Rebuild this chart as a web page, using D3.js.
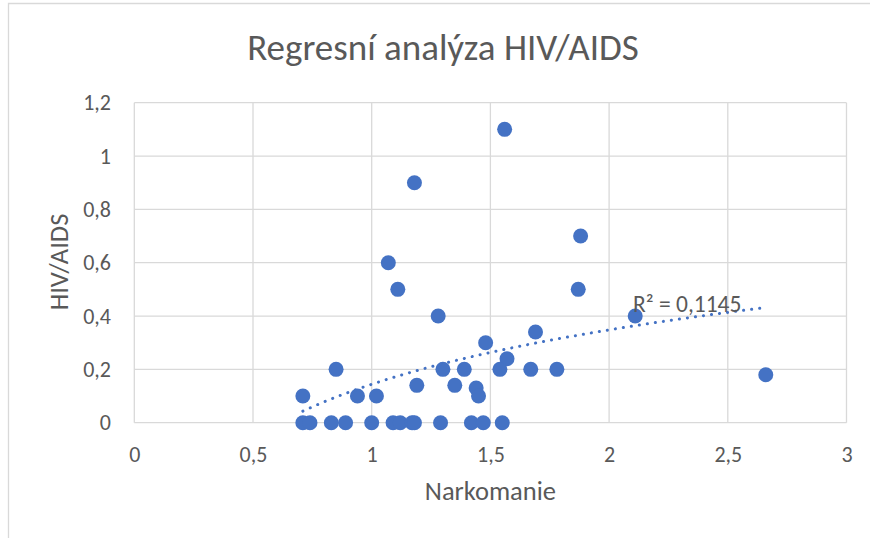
<!DOCTYPE html>
<html>
<head>
<meta charset="utf-8">
<script src="https://cdn.jsdelivr.net/npm/d3@7/dist/d3.min.js"></script>
<style>
  body { margin: 0; background: #fff; }
  text { font-family: Carlito, Calibri, "Open Sans", sans-serif; fill: #595959; }
</style>
</head>
<body>
<div id="chart"></div>
<script>
// values
var narkomanie = [1.56, 1.18, 1.07, 1.88, 1.87, 1.11, 1.28, 2.11, 2.66, 0.71,
                  0.85, 0.94, 1.02, 1.19, 1.48, 1.69, 1.57, 1.30, 1.39, 1.54,
                  1.67, 1.78, 1.35, 1.44, 1.45,
                  0.71, 0.74, 0.83, 0.89, 1.00, 1.09, 1.12, 1.17, 1.18, 1.29,
                  1.42, 1.47, 1.55];
var hivAids = [1.1, 0.9, 0.6, 0.7, 0.5, 0.5, 0.4, 0.4, 0.18, 0.1,
               0.2, 0.1, 0.1, 0.14, 0.3, 0.34, 0.24, 0.2, 0.2, 0.2,
               0.2, 0.2, 0.14, 0.13, 0.1,
               0, 0, 0, 0, 0, 0, 0, 0, 0, 0,
               0, 0, 0];
var xTicks = [0, 0.5, 1, 1.5, 2, 2.5, 3];
var yTicks = [0, 0.2, 0.4, 0.6, 0.8, 1, 1.2];
var title = "Regresní analýza HIV/AIDS";
var r2Label = "R² = 0,1145";

var W = 870, H = 538;
var margin = {top: 102.7, right: 23.5, bottom: 115.3, left: 134.3};
var w = W - margin.left - margin.right;
var h = H - margin.top - margin.bottom;

var data = narkomanie.map(function(d, i) { return {x: d, y: hivAids[i]}; });

var svg = d3.select("#chart").append("svg")
    .attr("width", W)
    .attr("height", H);

// chart border (only top and left are inside the picture)
svg.append("path")
    .attr("d", "M8.5,538V3.5H870")
    .attr("fill", "none")
    .attr("stroke", "#d9d9d9")
    .attr("stroke-width", 1.3);

var g = svg.append("g")
    .attr("transform", "translate(" + margin.left + "," + margin.top + ")");

var x = d3.scaleLinear().domain([0, 3]).range([0, w]);
var y = d3.scaleLinear().domain([0, 1.2]).range([h, 0]);

var fmt = function(d) { return String(d).replace(".", ","); };

// gridlines
g.append("g").selectAll("line").data(xTicks).enter().append("line")
    .attr("x1", function(d) { return x(d); })
    .attr("x2", function(d) { return x(d); })
    .attr("y1", 0).attr("y2", h)
    .attr("stroke", "#d9d9d9").attr("stroke-width", 1.3);
g.append("g").selectAll("line").data(yTicks).enter().append("line")
    .attr("y1", function(d) { return y(d); })
    .attr("y2", function(d) { return y(d); })
    .attr("x1", 0).attr("x2", w)
    .attr("stroke", "#d9d9d9").attr("stroke-width", 1.3);

// axes (labels only, Excel style)
var xAxis = d3.axisBottom(x).tickValues(xTicks).tickFormat(fmt).tickSize(0).tickPadding(23.4);
var yAxis = d3.axisLeft(y).tickValues(yTicks).tickFormat(fmt).tickSize(0).tickPadding(23.3);

g.append("g")
    .attr("transform", "translate(0," + h + ")")
    .call(xAxis)
    .call(function(s) { s.select(".domain").remove(); })
    .selectAll("text")
    .style("font-size", "22px")
    .attr("fill", "#595959");

g.append("g")
    .call(yAxis)
    .call(function(s) { s.select(".domain").remove(); })
    .selectAll("text")
    .style("font-size", "22px")
    .attr("fill", "#595959");

// points
g.append("g").selectAll("circle").data(data).enter().append("circle")
    .attr("cx", function(d) { return x(d.x); })
    .attr("cy", function(d) { return y(d.y); })
    .attr("r", 7.5)
    .attr("fill", "#4472c4");

// logarithmic trendline, least squares on ln(x)
var lx = data.map(function(d) { return Math.log(d.x); });
var mx = d3.mean(lx), my = d3.mean(data, function(d) { return d.y; });
var sxy = d3.sum(data, function(d, i) { return (lx[i] - mx) * (d.y - my); });
var sxx = d3.sum(lx, function(v) { return (v - mx) * (v - mx); });
var a = sxy / sxx, b = my - a * mx;
var ext = d3.extent(narkomanie);
var trend = d3.range(0, 101).map(function(i) {
  var xv = ext[0] + (ext[1] - ext[0]) * i / 100;
  return [xv, a * Math.log(xv) + b];
});
g.append("path")
    .attr("d", d3.line().x(function(d) { return x(d[0]); }).y(function(d) { return y(d[1]); })(trend))
    .attr("fill", "none")
    .attr("stroke", "#4472c4")
    .attr("stroke-width", 3)
    .attr("stroke-linecap", "round")
    .attr("stroke-dasharray", "0.1,8");

svg.append("text")
    .attr("x", 633).attr("y", 312)
    .style("font-size", "23.5px")
    .text(r2Label);

// titles
svg.append("text")
    .attr("x", 443).attr("y", 60)
    .attr("text-anchor", "middle")
    .style("font-size", "37px")
    .text(title);

svg.append("text")
    .attr("x", margin.left + w / 2).attr("y", 500)
    .attr("text-anchor", "middle")
    .style("font-size", "26.5px")
    .text("Narkomanie");

svg.append("text")
    .attr("transform", "translate(68,262) rotate(-90)")
    .attr("text-anchor", "middle")
    .style("font-size", "26.5px")
    .text("HIV/AIDS");
</script>
</body>
</html>
